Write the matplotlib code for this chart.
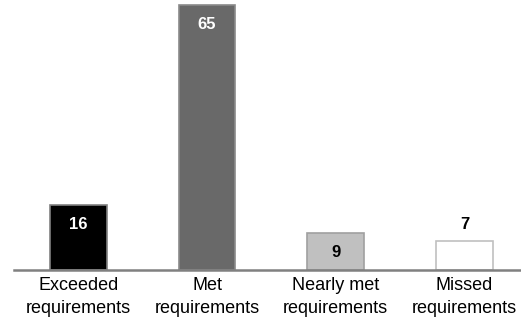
import matplotlib
matplotlib.use("Agg")
import matplotlib.pyplot as plt

categories = ["Exceeded\nrequirements", "Met\nrequirements",
              "Nearly met\nrequirements", "Missed\nrequirements"]
values = [16, 65, 9, 7]
fill_colors = ["#000000", "#696969", "#c0c0c0", "#ffffff"]
edge_colors = ["#808080", "#8a8a8a", "#a0a0a0", "#c0c0c0"]
label_colors = ["white", "white", "black", "black"]
label_inside = [True, True, True, False]

plt.rcParams["font.family"] = ["Liberation Sans", "DejaVu Sans"]

fig = plt.figure(figsize=(5.21, 3.33), dpi=100)
W, H = 521, 333
ax = fig.add_axes([14 / W, (H - 270) / H, (W - 14) / W, 270 / H])

x = list(range(len(values)))
ax.bar(x, values, width=0.44, color=fill_colors, edgecolor=edge_colors,
       linewidth=1.2, zorder=2)

for xi, v, c, inside in zip(x, values, label_colors, label_inside):
    dy = -14 if inside else 12
    ax.annotate(str(v), (xi, v), xytext=(0, dy), textcoords="offset points",
                ha="center", va="center", fontsize=12, fontweight="bold", color=c)

ax.set_xlim(-0.5, 3.44)
ax.set_ylim(0, 66.3)
ax.set_xticks(x)
ax.set_xticklabels(categories, fontsize=13, linespacing=1.5)
ax.tick_params(axis="x", length=0, pad=5)
ax.set_yticks([])
for side in ["top", "right", "left"]:
    ax.spines[side].set_visible(False)
ax.spines["bottom"].set_color("#808080")
ax.spines["bottom"].set_linewidth(1.8)

fig.savefig("out.png", dpi=100)
